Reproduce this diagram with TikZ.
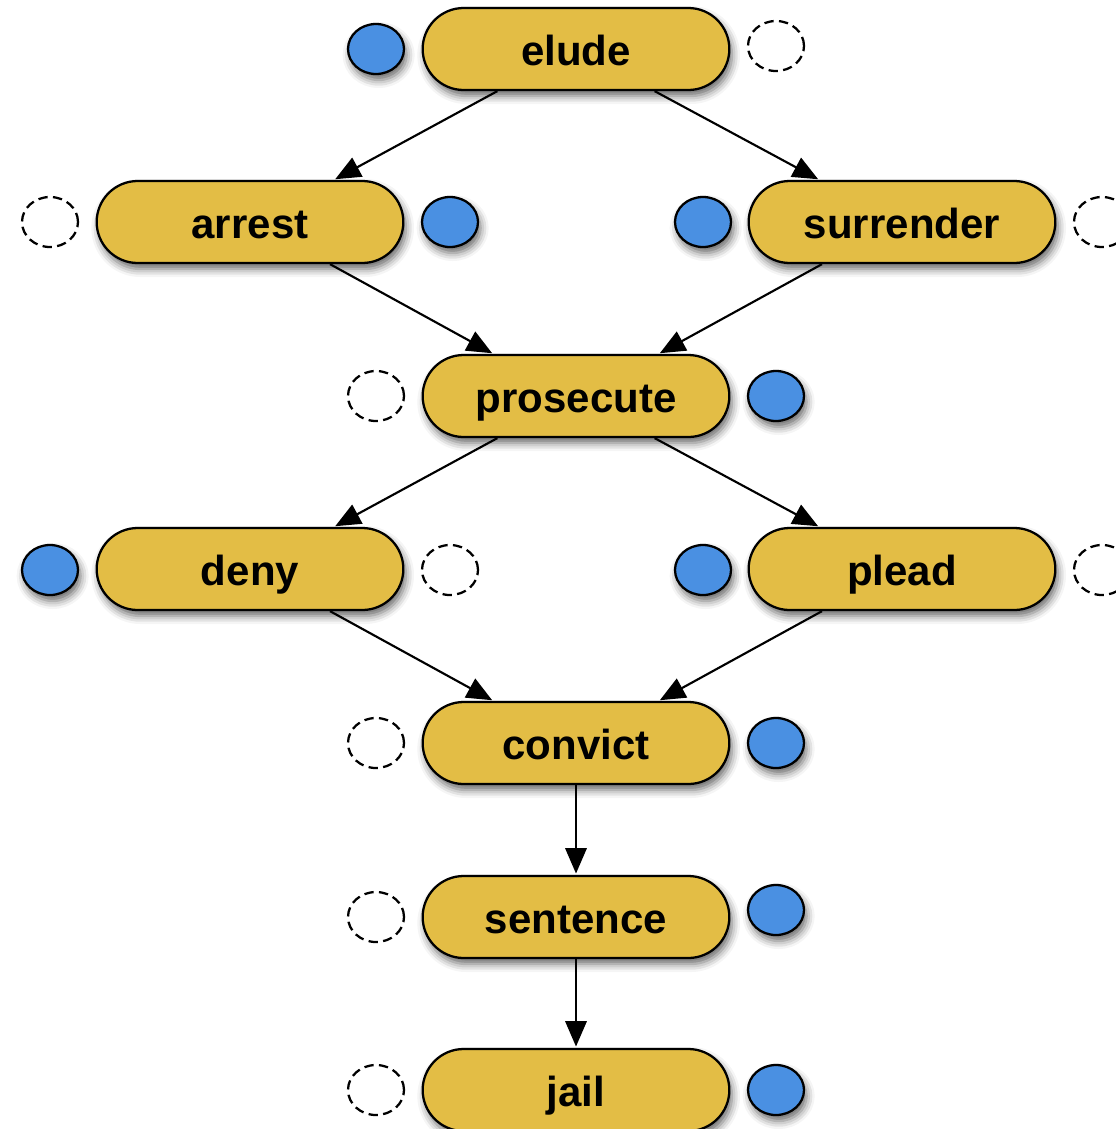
\documentclass[tikz,border=0pt]{standalone}
\usepackage{fontspec}
\setmainfont{Liberation Sans}
\usetikzlibrary{shapes.geometric,shapes.misc,arrows.meta,shadows.blur}
\definecolor{pillfill}{HTML}{E3BD45}
\definecolor{dotblue}{HTML}{4A90E2}
\begin{document}
\begin{tikzpicture}[x=0.75pt,y=-0.75pt,
  softshadow/.style={blur shadow={shadow xshift=2pt,shadow yshift=-4.5pt,shadow blur radius=6pt,shadow opacity=60}},
  pill/.style={rounded rectangle, draw=black, line width=1.7pt, fill=pillfill,
    minimum width=230pt, minimum height=61.5pt, inner sep=0pt,
    text height=26pt, text depth=1pt,
    font=\fontsize{31.5}{36}\selectfont\bfseries, softshadow},
  fulldot/.style={ellipse, draw=black, line width=1.7pt, fill=dotblue,
    minimum width=42pt, minimum height=37.5pt, inner sep=0pt, softshadow},
  emptydot/.style={ellipse, draw=black, line width=1.7pt, dash pattern=on 7pt off 4pt,
    fill=white, minimum width=42pt, minimum height=37.5pt, inner sep=0pt},
  flow/.style={line width=1.6pt, -{Triangle[length=19pt,width=16pt]}, shorten >=1pt}
]
\useasboundingbox (0,0) rectangle (1116,1129);

% task pills
\node[pill] (elude)     at (576,49)   {elude};
\node[pill] (arrest)    at (250,222)  {arrest};
\node[pill] (surrender) at (902,222)  {surrender};
\node[pill] (prosecute) at (576,396)  {prosecute};
\node[pill] (deny)      at (250,569)  {deny};
\node[pill] (plead)     at (902,569)  {plead};
\node[pill] (convict)   at (576,743)  {convict};
\node[pill] (sentence)  at (576,917)  {sentence};
\node[pill] (jail)      at (576,1090) {jail};

% status markers beside each pill
\node[fulldot]  (eludeL)     at (376,49)   {};
\node[emptydot] (eludeR)     at (776,46)   {};
\node[emptydot] (arrestL)    at (50,222)   {};
\node[fulldot]  (arrestR)    at (450,222)  {};
\node[fulldot]  (surrenderL) at (703,222)  {};
\node[emptydot] (surrenderR) at (1102,222) {};
\node[emptydot] (prosecuteL) at (376,396)  {};
\node[fulldot]  (prosecuteR) at (776,396)  {};
\node[fulldot]  (denyL)      at (50,570)   {};
\node[emptydot] (denyR)      at (450,570)  {};
\node[fulldot]  (pleadL)     at (703,570)  {};
\node[emptydot] (pleadR)     at (1102,570) {};
\node[emptydot] (convictL)   at (376,743)  {};
\node[fulldot]  (convictR)   at (776,743)  {};
\node[emptydot] (sentenceL)  at (376,917)  {};
\node[fulldot]  (sentenceR)  at (776,910)  {};
\node[emptydot] (jailL)      at (376,1090) {};
\node[fulldot]  (jailR)      at (776,1090) {};

% flow between pills
\draw[flow] ([xshift=-59pt]elude.south) -- ([xshift=63pt]arrest.north);
\draw[flow] ([xshift=59pt]elude.south) -- ([xshift=-62pt]surrender.north);
\draw[flow] ([xshift=60pt]arrest.south) -- ([xshift=-62pt]prosecute.north);
\draw[flow] ([xshift=-60pt]surrender.south) -- ([xshift=62pt]prosecute.north);
\draw[flow] ([xshift=-59pt]prosecute.south) -- ([xshift=63pt]deny.north);
\draw[flow] ([xshift=59pt]prosecute.south) -- ([xshift=-62pt]plead.north);
\draw[flow] ([xshift=60pt]deny.south) -- ([xshift=-62pt]convict.north);
\draw[flow] ([xshift=-60pt]plead.south) -- ([xshift=62pt]convict.north);
\draw[flow] (convict.south) -- (sentence.north);
\draw[flow] (sentence.south) -- (jail.north);
\end{tikzpicture}
\end{document}
